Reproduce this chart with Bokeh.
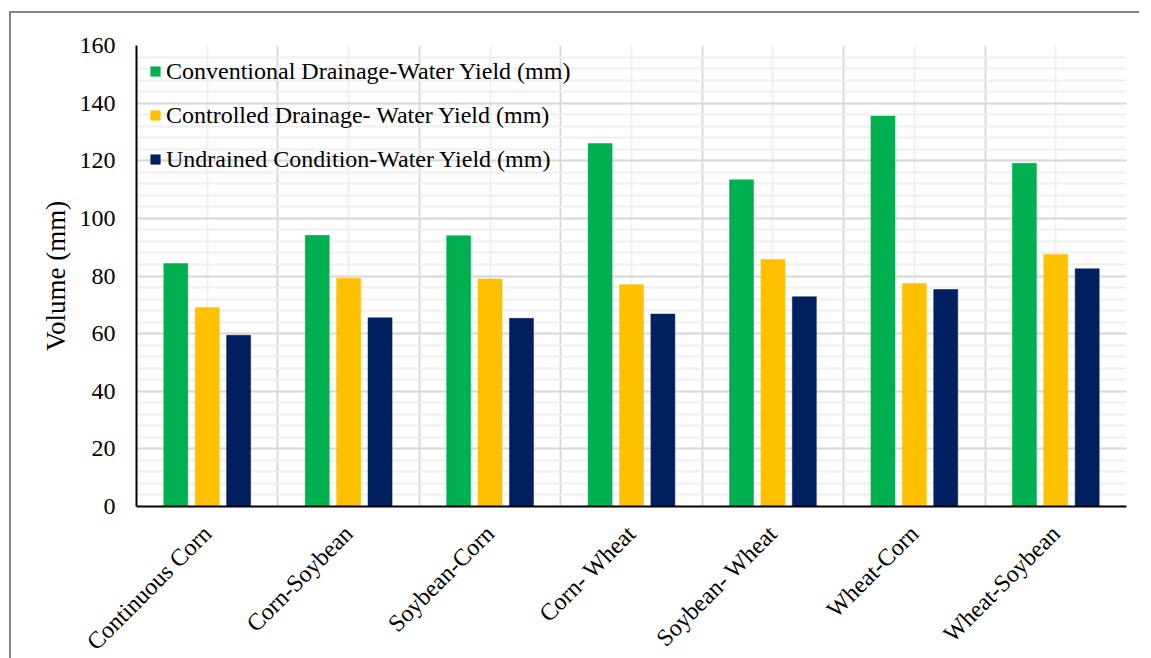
import numpy as np
from bokeh.plotting import figure
from bokeh.models import (ColumnDataSource, FixedTicker, SingleIntervalTicker,
                          Legend, LegendItem, Range1d)
from bokeh.transform import dodge
from bokeh.embed import file_html
from bokeh.resources import INLINE

categories = ["Continuous Corn", "Corn-Soybean", "Soybean-Corn", "Corn- Wheat",
              "Soybean- Wheat", "Wheat-Corn", "Wheat-Soybean"]
conventional = [84.3, 94.1, 94.0, 126.0, 113.4, 135.5, 119.1]
controlled = [69.1, 79.2, 79.0, 77.0, 85.7, 77.4, 87.5]
undrained = [59.4, 65.5, 65.3, 66.8, 72.8, 75.3, 82.5]
series_names = ["Conventional Drainage-Water Yield (mm)",
                "Controlled Drainage- Water Yield (mm)",
                "Undrained Condition-Water Yield (mm)"]
colors = ["#00B050", "#FFC000", "#002060"]

FONT = "Liberation Serif"
n = len(categories)
centers = [i + 0.5 for i in range(n)]
source = ColumnDataSource(dict(x=centers, conv=conventional, ctrl=controlled, und=undrained))

p = figure(width=1130, height=660, output_backend="svg", toolbar_location=None,
           x_range=Range1d(0, n), y_range=Range1d(0, 160),
           min_border_left=125, min_border_right=15, min_border_top=32, min_border_bottom=167)
p.styles = {"margin-left": "9px", "margin-top": "11px", "margin-bottom": "-40px",
            "border-left": "2px solid #858585", "border-top": "2px solid #858585"}
p.outline_line_color = None
p.background_fill_color = "white"

width = 0.17
offsets = [-0.222, 0.0, 0.222]
fields = ["conv", "ctrl", "und"]
renderers = []
for f, off, c in zip(fields, offsets, colors):
    r = p.vbar(x=dodge("x", off, range=p.x_range), top=f, width=width, source=source,
               fill_color=c, line_color=c, line_width=0.5)
    renderers.append(r)

# axes
p.xaxis.ticker = FixedTicker(ticks=centers)
p.xaxis.major_label_overrides = {c: lab for c, lab in zip(centers, categories)}
p.xaxis.major_label_orientation = np.pi / 4
p.xaxis.major_label_text_font = FONT
p.xaxis.major_label_text_font_size = "24px"
p.xaxis.major_label_text_color = "black"
p.xaxis.major_label_standoff = 17
p.xaxis.major_tick_line_color = None
p.xaxis.minor_tick_line_color = None
p.xaxis.axis_line_color = "black"
p.xaxis.axis_line_width = 2

p.yaxis.ticker = SingleIntervalTicker(interval=20, num_minor_ticks=5)
p.yaxis.major_label_text_font = FONT
p.yaxis.major_label_text_font_size = "24px"
p.yaxis.major_label_text_color = "black"
p.yaxis.major_label_standoff = 15
p.yaxis.major_tick_line_color = None
p.yaxis.minor_tick_line_color = None
p.yaxis.axis_line_color = "black"
p.yaxis.axis_line_width = 2
p.yaxis.axis_label = "Volume (mm)"
p.yaxis.axis_label_text_font = FONT
p.yaxis.axis_label_text_font_size = "27px"
p.yaxis.axis_label_text_font_style = "normal"
p.yaxis.axis_label_text_color = "black"
p.yaxis.axis_label_standoff = 6

# grids
p.ygrid.ticker = SingleIntervalTicker(interval=20, num_minor_ticks=5)
p.ygrid.grid_line_color = "#d9d9d9"
p.ygrid.grid_line_width = 2
p.ygrid.minor_grid_line_color = "#efefef"
p.ygrid.minor_grid_line_width = 2

p.xgrid.ticker = FixedTicker(ticks=list(range(n + 1)), minor_ticks=centers)
p.xgrid.grid_line_color = "#d9d9d9"
p.xgrid.grid_line_width = 2
p.xgrid.minor_grid_line_color = "#efefef"
p.xgrid.minor_grid_line_width = 2

legend = Legend(items=[LegendItem(label=s, renderers=[r]) for s, r in zip(series_names, renderers)],
                location=(13, 332), orientation="vertical",
                label_text_font=FONT, label_text_font_size="24px", label_text_color="black",
                glyph_width=12, glyph_height=12, label_height=30, label_standoff=5,
                spacing=14, padding=0, margin=0,
                border_line_color=None, background_fill_alpha=0)
p.add_layout(legend, "center")

open("out.html", "w").write(file_html(p, INLINE))
